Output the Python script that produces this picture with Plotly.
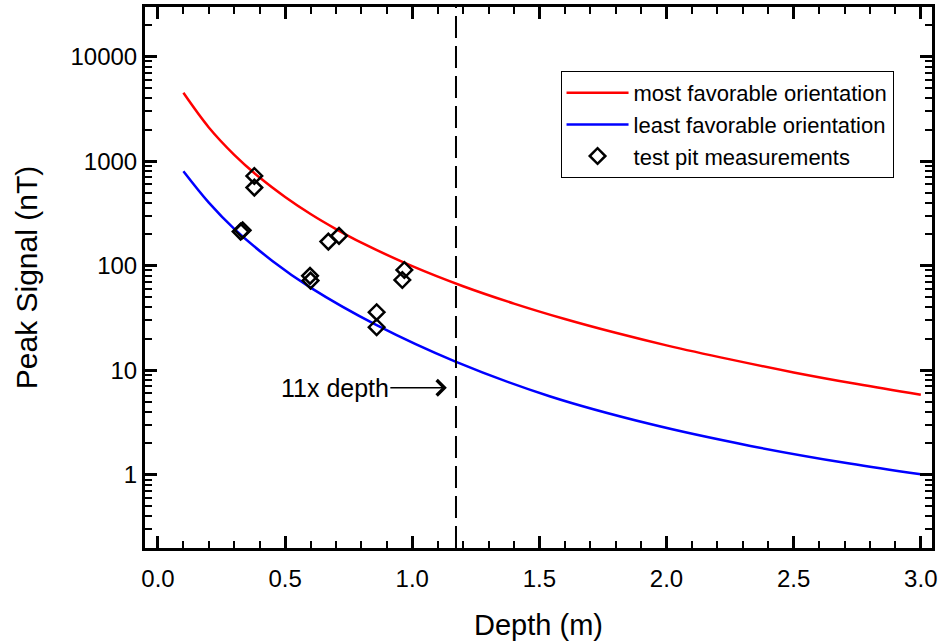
import math
import plotly.graph_objects as go

# ---------------- data ----------------
depth_most = [0.1, 0.2, 0.3, 0.4, 0.5, 0.6, 0.7, 0.8, 1.0, 1.2, 1.4, 1.6, 1.8, 2.0, 2.25, 2.5, 2.75, 3.0]
signal_most = [4500, 2100, 1150, 696, 454, 312, 224, 166, 99, 63.6, 43.4, 30.9, 22.8, 17.3, 12.7, 9.53, 7.37, 5.82]

depth_least = [0.1, 0.2, 0.3, 0.45, 0.6, 0.86, 1.17, 1.54, 1.94, 2.33, 2.72, 3.0]
signal_least = [800, 401, 225, 111, 61.7, 27, 12.1, 5.64, 3.04, 1.89, 1.28, 1.01]

pit_depth = [0.379, 0.379, 0.325, 0.333, 0.670, 0.712, 0.598, 0.600, 0.969, 0.961, 0.860, 0.860]
pit_signal = [721, 558, 212, 218, 170, 193, 80, 72, 91, 73, 35.9, 25.8]

eleven_x_depth = 1.172
arrow_tip_depth = 1.136
arrow_tip_signal = 6.8

x_tick_labels = ["0.0", "0.5", "1.0", "1.5", "2.0", "2.5", "3.0"]
y_tick_labels = ["1", "10", "100", "1000", "10000"]

FONT = "Liberation Sans, Arial, sans-serif"

fig = go.Figure()
fig.add_trace(go.Scatter(x=depth_most, y=signal_most, mode="lines", line=dict(color="#ff0000", width=2.5, shape="spline"),
                         name="most favorable orientation"))
fig.add_trace(go.Scatter(x=depth_least, y=signal_least, mode="lines", line=dict(color="#0000ff", width=2.5, shape="spline"),
                         name="least favorable orientation"))
fig.add_trace(go.Scatter(x=pit_depth, y=pit_signal, mode="markers",
                         marker=dict(symbol="diamond-open", size=12, color="black", line=dict(color="black", width=2.5)),
                         name="test pit measurements"))

fig.add_vline(x=eleven_x_depth, line=dict(color="black", width=2, dash="22px,8px"))

fig.add_annotation(x=arrow_tip_depth, y=math.log10(arrow_tip_signal), xref="x", yref="y",
                   text="11x depth", showarrow=True, ax=-112, ay=0,
                   arrowhead=4, arrowsize=2.0, arrowwidth=1.5, arrowcolor="black",
                   font=dict(family=FONT, size=25, color="black"))

axis_common = dict(
    ticks="inside", ticklen=12, tickwidth=2.5, tickcolor="black",
    showline=True, linewidth=3, linecolor="black", mirror="allticks",
    showgrid=False, zeroline=False,
    tickfont=dict(family=FONT, size=24, color="black"),
)

fig.update_xaxes(
    range=[-0.051, 3.044], tickmode="array",
    tickvals=[float(t) for t in x_tick_labels], ticktext=x_tick_labels,
    minor=dict(dtick=0.1, tick0=0, ticks="inside", ticklen=7, tickwidth=1.5, tickcolor="black", showgrid=False),
    title=dict(text="Depth (m)", font=dict(family=FONT, size=29, color="black"), standoff=24),
    ticklabelstandoff=7,
    **axis_common,
)
fig.update_yaxes(
    type="log", range=[-0.70, 4.474], tickmode="array",
    tickvals=[float(t) for t in y_tick_labels], ticktext=y_tick_labels,
    minor=dict(dtick="D1", ticks="inside", ticklen=7, tickwidth=1.5, tickcolor="black", showgrid=False),
    title=dict(text="Peak Signal (nT)", font=dict(family=FONT, size=30, color="black"), standoff=24),
    ticklabelstandoff=0,
    **axis_common,
)

fig.update_layout(
    width=943, height=644,
    margin=dict(l=145, r=11, t=7, b=96, autoexpand=False),
    plot_bgcolor="white", paper_bgcolor="white",
    font=dict(family=FONT, color="black"),
    showlegend=True,
    legend=dict(x=0.528, y=0.8817, xanchor="left", yanchor="top",
                bordercolor="black", borderwidth=1, bgcolor="white",
                font=dict(family=FONT, size=22, color="black"),
                itemwidth=62, tracegroupgap=0),
)

fig.write_html("out.html")
